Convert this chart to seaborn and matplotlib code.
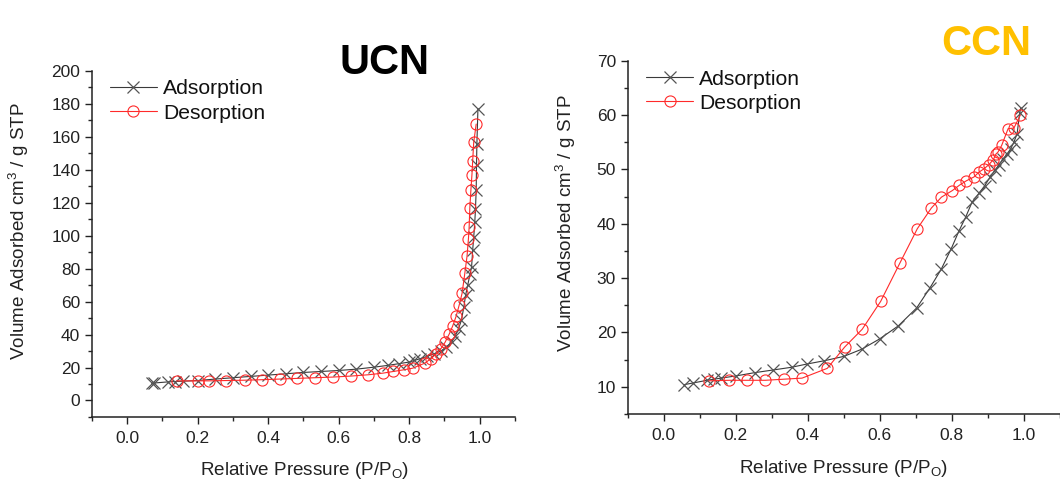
import numpy as np
import pandas as pd
import matplotlib
matplotlib.use('Agg')
import matplotlib.pyplot as plt
import seaborn as sns
from matplotlib.ticker import MultipleLocator

# ============================================================
# DATA
# ============================================================

ucn_ads_p = [0.069, 0.076, 0.117, 0.136, 0.159, 0.20, 0.25, 0.30, 0.35, 0.40,
             0.45, 0.50, 0.55, 0.60, 0.65, 0.70, 0.74, 0.77, 0.80, 0.815,
             0.83, 0.85, 0.87, 0.89, 0.905, 0.92, 0.93, 0.94, 0.948, 0.955,
             0.96, 0.966, 0.973, 0.977, 0.98, 0.983, 0.986, 0.988, 0.99,
             0.991, 0.992, 0.995]
ucn_ads_v = [10.5, 10.6, 11.3, 11.5, 11.7, 12.1, 13.0, 13.8, 14.6, 15.4,
             16.2, 17.0, 17.6, 18.2, 19.0, 20.2, 21.3, 22.3, 23.3, 24.3,
             25.3, 26.7, 28.3, 30.0, 32.4, 35.4, 38.9, 43.5, 48.6, 56.7,
             63.8, 70.0, 77.0, 81.0, 91.0, 99.0, 108.0, 116.0, 127.5,
             143.0, 155.5, 177.0]

ucn_des_p = [0.99, 0.983, 0.98, 0.978, 0.975, 0.972, 0.97, 0.968, 0.964,
             0.958, 0.95, 0.942, 0.933, 0.923, 0.914, 0.902, 0.89, 0.876,
             0.861, 0.845, 0.81, 0.784, 0.755, 0.726, 0.684, 0.634, 0.583,
             0.532, 0.482, 0.433, 0.382, 0.333, 0.281, 0.231, 0.202, 0.14]
ucn_des_v = [167.6, 156.5, 145.0, 137.0, 127.5, 117.0, 105.0, 98.0, 87.4,
             77.5, 65.0, 58.0, 51.0, 45.0, 40.5, 35.4, 31.4, 28.0,
             25.3, 22.7, 19.6, 18.6, 17.6, 16.6, 15.6, 14.8, 14.2,
             13.8, 13.4, 13.0, 12.6, 12.3, 12.1, 11.9, 11.9, 11.9]

ccn_ads_p = [0.057, 0.081, 0.12, 0.139, 0.159, 0.20, 0.252, 0.304, 0.355,
             0.398, 0.446, 0.50, 0.549, 0.599, 0.651, 0.702, 0.739, 0.77,
             0.798, 0.819, 0.838, 0.856, 0.875, 0.891, 0.906, 0.919, 0.931,
             0.943, 0.954, 0.963, 0.972, 0.981, 0.988, 0.991]
ccn_ads_v = [10.4, 10.7, 11.2, 11.4, 11.6, 12.0, 12.6, 13.1, 13.6,
             14.2, 14.8, 15.6, 16.9, 18.8, 21.2, 24.5, 28.2, 31.6,
             35.4, 38.6, 41.2, 44.0, 45.6, 47.0, 48.6, 49.8, 50.9,
             52.0, 52.9, 53.8, 55.0, 56.6, 60.3, 61.3]

ccn_des_p = [0.99, 0.972, 0.956, 0.938, 0.928, 0.922, 0.915, 0.903, 0.889,
             0.875, 0.861, 0.84, 0.821, 0.801, 0.771, 0.743, 0.704, 0.655,
             0.602, 0.551, 0.502, 0.454, 0.384, 0.333, 0.282, 0.231, 0.182,
             0.125]
ccn_des_v = [60.0, 57.6, 57.5, 54.4, 53.2, 52.8, 51.8, 50.9, 50.1,
             49.5, 48.6, 47.9, 47.1, 46.1, 44.9, 42.9, 39.1, 32.7,
             25.7, 20.6, 17.3, 13.4, 11.6, 11.4, 11.2, 11.2, 11.2,
             11.1]

# ============================================================
# STYLE
# ============================================================

sns.set_style('ticks')
plt.rcParams['font.family'] = ['Liberation Sans', 'DejaVu Sans']
plt.rcParams['mathtext.fontset'] = 'custom'
plt.rcParams['mathtext.rm'] = 'Liberation Sans'

ADS_COLOR = '#3a3a3a'
DES_COLOR = '#ff2a2a'

fig = plt.figure(figsize=(10.6, 4.82), dpi=100)
ax1 = fig.add_axes([0.0868, 0.1349, 0.399, 0.7185])
ax2 = fig.add_axes([0.5922, 0.1411, 0.4078, 0.733])


def draw_panel(ax, ads_p, ads_v, des_p, des_v, ylim, ymaj, ymin_):
    ads = pd.DataFrame({'p': ads_p, 'v': ads_v})
    des = pd.DataFrame({'p': des_p, 'v': des_v})
    sns.lineplot(data=ads, x='p', y='v', ax=ax, sort=False, color=ADS_COLOR,
                 lw=0.8, marker='x', markersize=8, markeredgewidth=0.9,
                 markeredgecolor='#555555', label='Adsorption')
    sns.lineplot(data=des, x='p', y='v', ax=ax, sort=False, color=DES_COLOR,
                 lw=0.8, marker='o', markersize=8, markeredgewidth=0.8,
                 markerfacecolor='none', markeredgecolor=DES_COLOR,
                 label='Desorption')
    ax.set_xlim(-0.1, 1.1)
    ax.set_ylim(*ylim)
    ax.xaxis.set_major_locator(MultipleLocator(0.2))
    ax.xaxis.set_minor_locator(MultipleLocator(0.1))
    ax.yaxis.set_major_locator(MultipleLocator(ymaj))
    ax.yaxis.set_minor_locator(MultipleLocator(ymin_))
    ax.set_xticks([0.0, 0.2, 0.4, 0.6, 0.8, 1.0])
    ax.tick_params(which='major', direction='out', length=5, width=1,
                   labelsize=12.5, colors='#222222')
    ax.tick_params(axis='x', which='major', pad=5)
    ax.tick_params(which='minor', direction='out', length=3, width=1)
    for s in ['top', 'right']:
        ax.spines[s].set_visible(False)
    for s in ['left', 'bottom']:
        ax.spines[s].set_linewidth(1.1)
        ax.spines[s].set_color('#222222')
    ax.set_xlabel(r'Relative Pressure (P/P$_\mathregular{O}$)', fontsize=13.6,
                  color='#222222')
    ax.set_ylabel(r'Volume Adsorbed cm$^\mathregular{3}$ / g STP',
                  fontsize=13.6, color='#222222')
    leg = ax.legend(loc='upper left', bbox_to_anchor=(0.043, 0.975),
                    frameon=False, fontsize=15.2, handlelength=2.2,
                    handletextpad=0.3, labelspacing=0.25, borderaxespad=0,
                    borderpad=0)
    for t in leg.get_texts():
        t.set_color('#111111')


draw_panel(ax1, ucn_ads_p, ucn_ads_v, ucn_des_p, ucn_des_v, (-10, 200), 20, 10)
draw_panel(ax2, ccn_ads_p, ccn_ads_v, ccn_des_p, ccn_des_v, (5, 70), 10, 5)

ax1.yaxis.set_label_coords(-0.144, 0.537)
ax1.xaxis.set_label_coords(0.503, -0.124)
ax2.yaxis.set_label_coords(-0.115, 0.54)
ax2.xaxis.set_label_coords(0.50, -0.125)

fig.text(384 / 1060, 1 - 63 / 482, 'UCN', fontsize=30, fontweight='bold',
         color='black', ha='center', va='center')
fig.text(986 / 1060, 1 - 44 / 482, 'CCN', fontsize=30, fontweight='bold',
         color='#ffc000', ha='center', va='center')

fig.savefig('out.png', dpi=100)
